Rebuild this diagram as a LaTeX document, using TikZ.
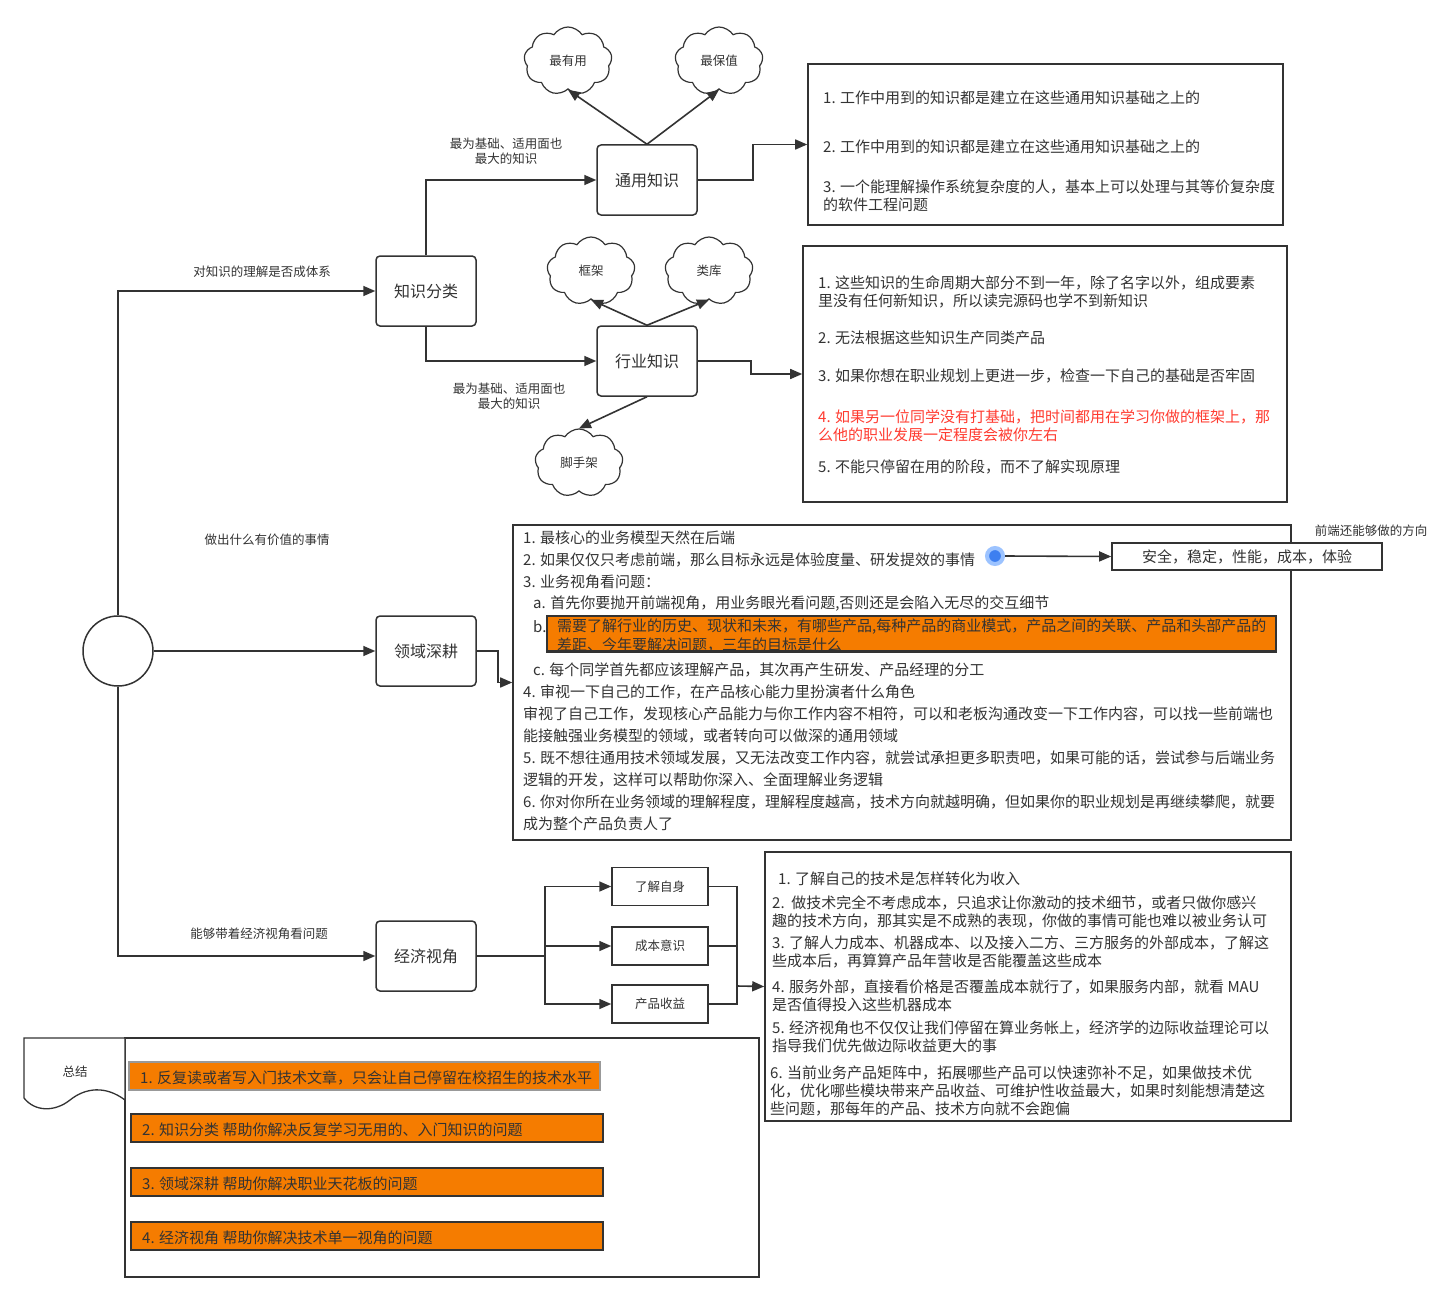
\documentclass[tikz,border=0pt]{standalone}
\usepackage{fontspec}
\setmainfont{Noto Sans CJK SC}
\usetikzlibrary{arrows.meta,shapes.symbols}
\definecolor{txt}{HTML}{333333}
\definecolor{ln}{HTML}{333333}
\definecolor{orng}{HTML}{F57C00}
\definecolor{redt}{HTML}{FF3B30}
\definecolor{bluecore}{HTML}{3D7FF0}
\definecolor{bluehalo}{HTML}{9CC3FF}
\tikzset{
  body/.style={text=txt, font=\fontsize{15}{18}\selectfont, inner sep=0pt, anchor=west, yshift=-1pt},
  conn/.style={draw=ln, line width=1.6pt},
  arr/.style={conn, -{Triangle[length=12pt,width=10pt]}},
  mainbox/.style={draw=ln, line width=1.5pt, rounded corners=4pt, minimum width=100pt, minimum height=70pt, fill=white, text=txt, font=\fontsize{16}{19}\selectfont},
  smallbox/.style={draw=ln, line width=1.5pt, minimum width=96pt, minimum height=38pt, fill=white, text=txt, font=\fontsize{12.5}{15}\selectfont},
  frame/.style={draw=ln, line width=1.6pt, inner sep=0pt},
  lbl/.style={text=txt, font=\fontsize{12.5}{15}\selectfont, inner sep=0pt, align=center},
  cloudnode/.style={cloud, cloud puffs=9, cloud puff arc=115, aspect=1.3, draw=ln, line width=1.2pt, minimum width=88pt, minimum height=68pt, fill=white, text=txt, font=\fontsize{12.5}{15}\selectfont, inner sep=0pt},
  obox/.style={draw=ln, line width=1.6pt, fill=orng, inner sep=0pt, minimum width=472pt, minimum height=28pt},
}
\begin{document}
\begin{tikzpicture}[x=1pt,y=-1pt]
\useasboundingbox[fill=white] (0,0) rectangle (1456,1303);

% ---------- start circle and main boxes ----------
\node[circle, draw=ln, line width=1.5pt, minimum size=70pt, inner sep=0pt] (start) at (118,651) {};
\node[mainbox] (zsfl) at (426,291) {知识分类};
\node[mainbox] (tyzs) at (647,180) {通用知识};
\node[mainbox] (hyzs) at (647,361) {行业知识};
\node[mainbox] (lysg) at (426,651) {领域深耕};
\node[mainbox] (jjsj) at (426,956) {经济视角};

% ---------- clouds ----------
\node[cloudnode] (zyy) at (568,61) {最有用};
\node[cloudnode] (zbz) at (719,61) {最保值};
\node[cloudnode] (kj) at (591,271) {框架};
\node[cloudnode] (lk) at (709,271) {类库};
\node[cloudnode] (jsj) at (579,463) {脚手架};

\draw[arr] (tyzs.north) -- (zyy.south);
\draw[arr] (tyzs.north) -- (zbz.south);
\draw[arr] (hyzs.north) -- (kj.south);
\draw[arr] (hyzs.north) -- (lk.south);
\draw[arr] (hyzs.south) -- (jsj.north);

% ---------- left connectors ----------
\draw[arr] (start.north) |- (zsfl.west);
\draw[arr] (start.east) -- (lysg.west);
\draw[arr] (start.south) |- (jjsj.west);
\draw[arr] (zsfl.north) |- (tyzs.west);
\draw[arr] (zsfl.south) |- (hyzs.west);

\node[lbl] (l1) at (262,272) {对知识的理解是否成体系};
\node[lbl] (l2) at (506,151) {最为基础、适用面也\\最大的知识};
\node[lbl] (l3) at (509,396) {最为基础、适用面也\\最大的知识};
\node[lbl] (l4) at (267,540) {做出什么有价值的事情};
\node[lbl] (l5) at (259,934) {能够带着经济视角看问题};

% ---------- box 1 ----------
\node[frame, minimum width=475pt, minimum height=161pt] (box1) at (1045.5,144.5) {};
\draw[arr] (tyzs.east) -- ++(55,0) |- (box1.west);
\node[body] (b1a) at (823,97) {1. 工作中用到的知识都是建立在这些通用知识基础之上的};
\node[body] (b1b) at (823,146) {2. 工作中用到的知识都是建立在这些通用知识基础之上的};
\node[body] (b1c) at (823,186) {3. 一个能理解操作系统复杂度的人，基本上可以处理与其等价复杂度};
\node[body] (b1d) at (823,204) {的软件工程问题};

% ---------- box 2 ----------
\node[frame, minimum width=484pt, minimum height=256pt] (box2) at (1045,374) {};
\draw[arr] (hyzs.east) -- ++(53,0) |- (box2.west);
\node[body] (b2a) at (818,282) {1. 这些知识的生命周期大部分不到一年，除了名字以外，组成要素};
\node[body] (b2b) at (818,300) {里没有任何新知识，所以读完源码也学不到新知识};
\node[body] (b2c) at (818,337) {2. 无法根据这些知识生产同类产品};
\node[body] (b2d) at (818,375) {3. 如果你想在职业规划上更进一步，检查一下自己的基础是否牢固};
\node[body, text=redt] (b2e) at (818,416) {4. 如果另一位同学没有打基础，把时间都用在学习你做的框架上，那};
\node[body, text=redt] (b2f) at (818,434) {么他的职业发展一定程度会被你左右};
\node[body] (b2g) at (818,466) {5. 不能只停留在用的阶段，而不了解实现原理};

% ---------- box 3 ----------
\node[frame, minimum width=778pt, minimum height=315pt] (box3) at (902,682.5) {};
\draw[arr] (lysg.east) -- ++(21,0) |- (box3.west);
\node[body] (b3a) at (523,537) {1. 最核心的业务模型天然在后端};
\node[body] (b3b) at (523,559) {2. 如果仅仅只考虑前端，那么目标永远是体验度量、研发提效的事情};
\node[body] (b3c) at (523,581) {3. 业务视角看问题：};
\node[body] (b3d) at (533,603) {a. 首先你要抛开前端视角，用业务眼光看问题,否则还是会陷入无尽的交互细节};
\node[body] (b3e) at (533,626) {b.};
\node[frame, fill=orng, minimum width=729pt, minimum height=35pt] (b3box) at (911.5,633.5) {};
\node[body] (b3f) at (557,626) {需要了解行业的历史、现状和未来，有哪些产品,每种产品的商业模式，产品之间的关联、产品和头部产品的};
\node[body] (b3g) at (557,644) {差距、今年要解决问题，三年的目标是什么};
\draw[draw=ln, line width=1.6pt] (b3box.south west) -- (b3box.south east);
\node[body] (b3h) at (533,669) {c. 每个同学首先都应该理解产品，其次再产生研发、产品经理的分工};
\node[body] (b3i) at (523,691) {4. 审视一下自己的工作，在产品核心能力里扮演者什么角色};
\node[body] (b3j) at (523,713) {审视了自己工作，发现核心产品能力与你工作内容不相符，可以和老板沟通改变一下工作内容，可以找一些前端也};
\node[body] (b3k) at (523,735) {能接触强业务模型的领域，或者转向可以做深的通用领域};
\node[body] (b3l) at (523,757) {5. 既不想往通用技术领域发展，又无法改变工作内容，就尝试承担更多职责吧，如果可能的话，尝试参与后端业务};
\node[body] (b3m) at (523,779) {逻辑的开发，这样可以帮助你深入、全面理解业务逻辑};
\node[body] (b3n) at (523,801) {6. 你对你所在业务领域的理解程度，理解程度越高，技术方向就越明确，但如果你的职业规划是再继续攀爬，就要};
\node[body] (b3o) at (523,823) {成为整个产品负责人了};

\node[circle, fill=bluecore, draw=bluehalo, line width=4pt, minimum size=16pt, inner sep=0pt] (dot) at (995,556) {};
\node[frame, fill=white, minimum width=270pt, minimum height=27pt, text=txt, font=\fontsize{15}{18}\selectfont] (aq) at (1247,556.5) {安全，稳定，性能，成本，体验};
\draw[arr] (dot.east) -- (aq.west);
\node[lbl] (l6) at (1371,531) {前端还能够做的方向};

% ---------- economics ----------
\node[smallbox] (ljzs) at (660,886.5) {了解自身};
\node[smallbox] (cbys) at (660,946) {成本意识};
\node[smallbox] (cpsy) at (660,1004) {产品收益};
\draw[arr] (jjsj.east) -- ++(68,0) |- (ljzs.west);
\draw[arr] (jjsj.east) -- ++(68,0) |- (cbys.west);
\draw[arr] (jjsj.east) -- ++(68,0) |- (cpsy.west);
\coordinate (mrg) at (737,986);
\draw[conn] (ljzs.east) -| (mrg);
\draw[conn] (cbys.east) -| (mrg);
\draw[conn] (cpsy.east) -| (mrg);

\node[frame, minimum width=526pt, minimum height=269pt] (box4) at (1028,986.5) {};
\draw[arr] (mrg) -- (box4.west);
\node[body] (b4a) at (778,878) {1. 了解自己的技术是怎样转化为收入};
\node[body] (b4b) at (772,902) {2.\ \ 做技术完全不考虑成本，只追求让你激动的技术细节，或者只做你感兴};
\node[body] (b4c) at (772,920) {趣的技术方向，那其实是不成熟的表现，你做的事情可能也难以被业务认可};
\node[body] (b4d) at (772,942) {3. 了解人力成本、机器成本、以及接入二方、三方服务的外部成本，了解这};
\node[body] (b4e) at (772,960) {些成本后，再算算产品年营收是否能覆盖这些成本};
\node[body] (b4f) at (772,986) {4. 服务外部，直接看价格是否覆盖成本就行了，如果服务内部，就看 MAU};
\node[body] (b4g) at (772,1004) {是否值得投入这些机器成本};
\node[body] (b4h) at (772,1027) {5. 经济视角也不仅仅让我们停留在算业务帐上，经济学的边际收益理论可以};
\node[body] (b4i) at (772,1045) {指导我们优先做边际收益更大的事};
\node[body] (b4j) at (770,1072) {6. 当前业务产品矩阵中，拓展哪些产品可以快速弥补不足，如果做技术优};
\node[body] (b4k) at (770,1090) {化，优化哪些模块带来产品收益、可维护性收益最大，如果时刻能想清楚这};
\node[body] (b4l) at (770,1108) {些问题，那每年的产品、技术方向就不会跑偏};

% ---------- summary ----------
\node[frame, minimum width=634pt, minimum height=239pt] (sum) at (442,1157.5) {};
\draw[draw=ln, line width=1.3pt, fill=white] (24,1038) -- (125,1038) -- (125,1100)
  .. controls (105,1085) and (85,1088) .. (70,1100)
  .. controls (55,1112) and (35,1112) .. (24,1098) -- cycle;
\node[lbl] (zj) at (75,1072) {总结};
\node[obox, draw=gray!80, minimum width=471pt] (s1) at (364.5,1076) {};
\node[obox] (s2) at (367,1128) {};
\node[obox] (s3) at (367,1182) {};
\node[obox] (s4) at (367,1236) {};
\node[body] (s1t) at (140,1077) {1. 反复读或者写入门技术文章，只会让自己停留在校招生的技术水平};
\node[body] (s2t) at (142,1129) {2. 知识分类 帮助你解决反复学习无用的、入门知识的问题};
\node[body] (s3t) at (142,1183) {3. 领域深耕 帮助你解决职业天花板的问题};
\node[body] (s4t) at (142,1237) {4. 经济视角 帮助你解决技术单一视角的问题};
\end{tikzpicture}
\end{document}
